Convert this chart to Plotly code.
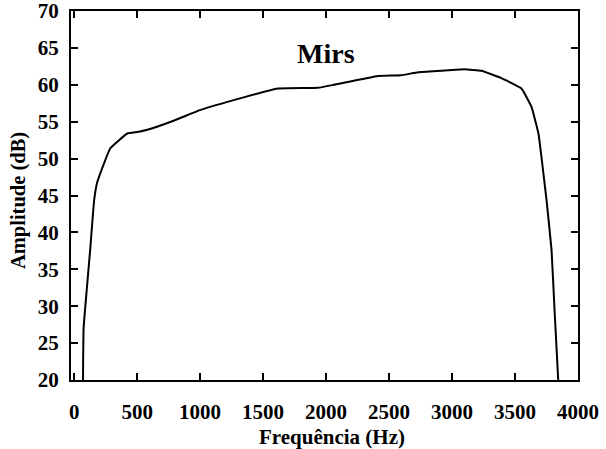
import plotly.graph_objects as go

freq_hz = [70, 75, 127, 159, 183, 287, 422, 502, 581, 800, 1003, 1346, 1616, 1935,
           2062, 2412, 2596, 2731, 2914, 3097, 3233, 3392, 3551, 3631, 3686, 3710,
           3750, 3790, 3814, 3846]
amplitude_db = [19, 27, 37.6, 44.4, 46.8, 51.4, 53.4, 53.6, 53.9, 55.2, 56.6, 58.3, 59.5, 59.6,
                60.0, 61.2, 61.3, 61.7, 61.9, 62.1, 61.9, 60.9, 59.5, 57.0, 53.4, 50.2,
                44.4, 37.6, 29.4, 19]
x_ticks = [0, 500, 1000, 1500, 2000, 2500, 3000, 3500, 4000]
y_ticks = [20, 25, 30, 35, 40, 45, 50, 55, 60, 65, 70]

FONT = "Liberation Serif"

fig = go.Figure()
fig.add_trace(go.Scatter(x=freq_hz, y=amplitude_db, mode="lines",
                         line=dict(color="black", width=2, shape="spline", smoothing=0.3),
                         showlegend=False))

fig.add_annotation(x=2000, y=64.2, text="<b>Mirs</b>", showarrow=False,
                   font=dict(family=FONT, size=28, color="black"))

# axis titles as annotations (slightly off-centre in the reference)
fig.add_annotation(xref="paper", yref="paper", x=0.515, y=-0.154,
                   text="<b>Frequência (Hz)</b>", showarrow=False,
                   xanchor="center", yanchor="middle",
                   font=dict(family=FONT, size=21, color="black"))
fig.add_annotation(xref="paper", yref="paper", x=-0.1045, y=0.485,
                   text="<b>Amplitude (dB)</b>", showarrow=False, textangle=-90,
                   xanchor="center", yanchor="middle",
                   font=dict(family=FONT, size=20.5, color="black"))

axis_common = dict(showline=True, linecolor="black", linewidth=2, mirror="ticks",
                   ticks="inside", ticklen=7, tickwidth=2, tickcolor="black",
                   showgrid=False, zeroline=False, automargin=False,
                   ticklabeloverflow="allow",
                   tickfont=dict(family=FONT, size=21, color="black"))

fig.update_xaxes(range=[-25, 4000], tickvals=x_ticks,
                 ticktext=[f"<b>{v}</b>" for v in x_ticks], ticklabelstandoff=12,
                 **axis_common)
fig.update_yaxes(range=[20, 70], tickvals=y_ticks,
                 ticktext=[f"<b>{v}</b>" for v in y_ticks], ticklabelstandoff=6,
                 **axis_common)

fig.update_layout(width=606, height=449, margin=dict(l=71, r=28, t=11, b=69),
                  plot_bgcolor="white", paper_bgcolor="white")

fig.write_html("out.html")
